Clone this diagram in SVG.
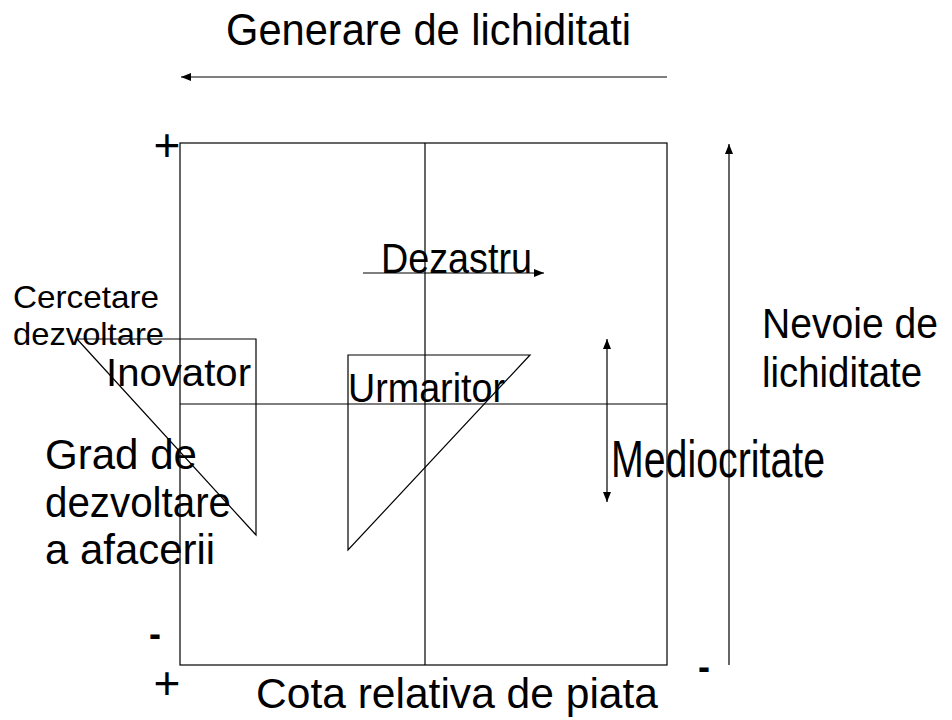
<svg xmlns="http://www.w3.org/2000/svg" width="952" height="720" viewBox="0 0 952 720">
  <style>
    .ln { stroke: #000; stroke-width: 1.2; fill: none; }
    .t { font-family: "Liberation Sans", Arial, sans-serif; fill: #000; }
    .sign { font-family: "Liberation Sans", Arial, sans-serif; fill: #000; }
  </style>
  <defs>
    <marker id="ah" markerWidth="10" markerHeight="8" refX="10" refY="4" orient="auto" markerUnits="userSpaceOnUse">
      <path d="M0,0 L10,4 L0,8 Z" fill="#000"/>
    </marker>
  </defs>
  <rect width="952" height="720" fill="#fff"/>

  <g id="frame">
    <rect class="ln" x="180" y="143" width="487" height="522"/>
    <line class="ln" x1="425" y1="143" x2="425" y2="665"/>
    <line class="ln" x1="180" y1="404" x2="667" y2="404"/>
  </g>

  <g id="connectors">
    <line class="ln" x1="667" y1="77" x2="181" y2="77" marker-end="url(#ah)"/>
    <line class="ln" x1="729" y1="665" x2="729" y2="144" marker-end="url(#ah)"/>
    <line class="ln" x1="363" y1="273" x2="544" y2="273" marker-end="url(#ah)"/>
    <line class="ln" x1="607" y1="420" x2="607" y2="339" marker-end="url(#ah)"/>
    <line class="ln" x1="607" y1="420" x2="607" y2="502" marker-end="url(#ah)"/>
  </g>

  <g id="inovator-shape">
    <polygon class="ln" points="77,339 256,339 256,535"/>
  </g>
  <g id="urmaritor-shape">
    <polygon class="ln" points="348,355 530,355 348,550"/>
  </g>

  <g id="title-top"><text class="t" x="226" y="45" font-size="45" textLength="405" lengthAdjust="spacingAndGlyphs">Generare de lichiditati</text></g>
  <g id="title-bottom"><text class="t" x="256" y="708" font-size="42" textLength="402" lengthAdjust="spacingAndGlyphs">Cota relativa de piata</text></g>
  <g id="cercetare"><text class="t" font-size="32"><tspan x="13" y="308" textLength="146" lengthAdjust="spacingAndGlyphs">Cercetare</tspan><tspan x="13" y="345" textLength="151" lengthAdjust="spacingAndGlyphs">dezvoltare</tspan></text></g>
  <g id="inovator"><text class="t" x="106" y="386" font-size="38" textLength="145" lengthAdjust="spacingAndGlyphs">Inovator</text></g>
  <g id="dezastru"><text class="t" x="381" y="273" font-size="42" textLength="151" lengthAdjust="spacingAndGlyphs">Dezastru</text></g>
  <g id="urmaritor"><text class="t" x="348" y="402" font-size="40" textLength="157" lengthAdjust="spacingAndGlyphs">Urmaritor</text></g>
  <g id="grad"><text class="t" font-size="43"><tspan x="45" y="469" textLength="152" lengthAdjust="spacingAndGlyphs">Grad de</tspan><tspan x="45" y="517" textLength="186" lengthAdjust="spacingAndGlyphs">dezvoltare</tspan><tspan x="45" y="564" textLength="170" lengthAdjust="spacingAndGlyphs">a afacerii</tspan></text></g>
  <g id="mediocritate"><text class="t" x="611" y="477" font-size="52" textLength="214" lengthAdjust="spacingAndGlyphs">Mediocritate</text></g>
  <g id="nevoie"><text class="t" font-size="42"><tspan x="762" y="338" textLength="176" lengthAdjust="spacingAndGlyphs">Nevoie de</tspan><tspan x="762" y="387" textLength="160" lengthAdjust="spacingAndGlyphs">lichiditate</tspan></text></g>

  <g id="signs">
    <text class="sign" x="167" y="161" font-size="46" text-anchor="middle">+</text>
    <text class="sign" x="167" y="699" font-size="46" text-anchor="middle">+</text>
    <text class="sign" x="155" y="646" font-size="36" font-weight="bold" text-anchor="middle">-</text>
    <text class="sign" x="704" y="679" font-size="36" font-weight="bold" text-anchor="middle">-</text>
  </g>
</svg>
